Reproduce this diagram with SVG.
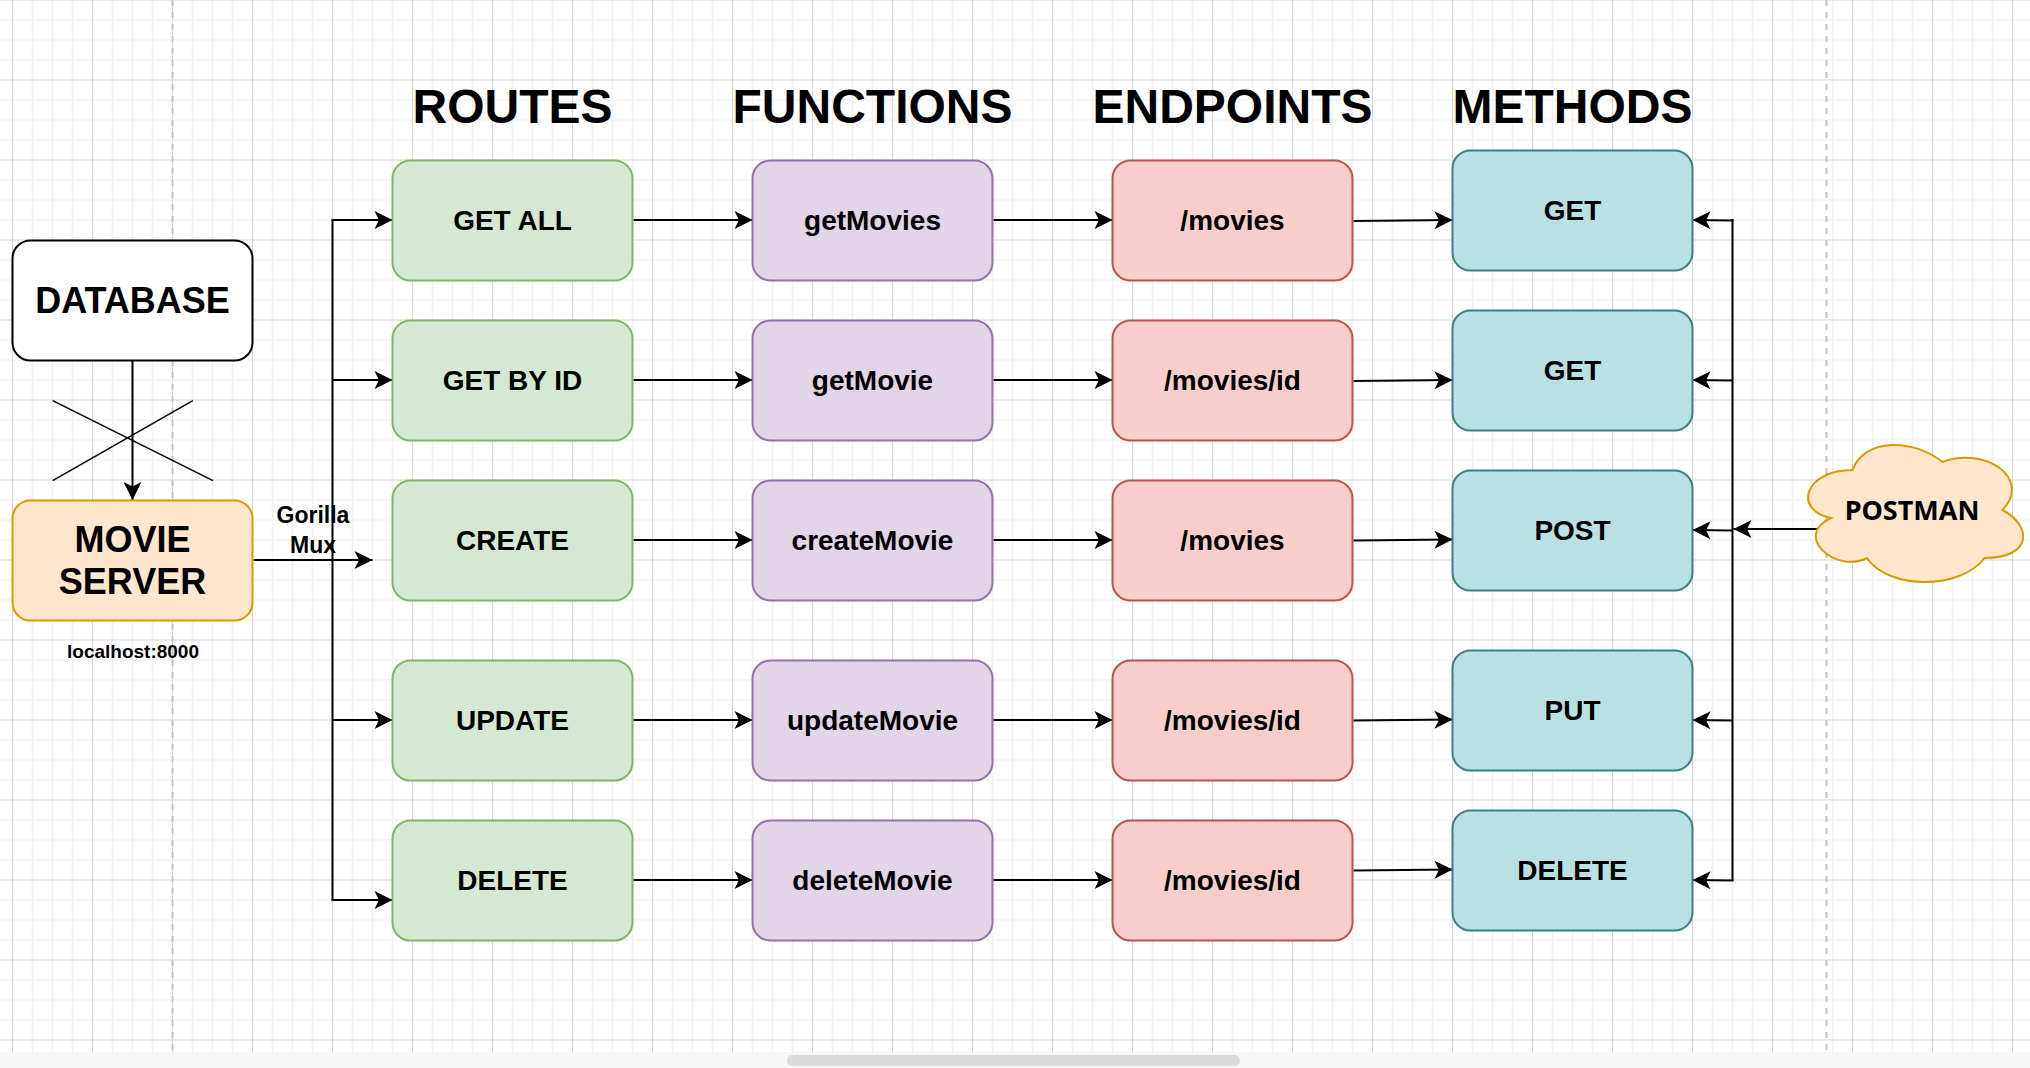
<svg xmlns="http://www.w3.org/2000/svg" width="2030" height="1068" viewBox="0 0 2030 1068">
<defs>
<pattern id="grid" patternUnits="userSpaceOnUse" x="12" y="-0.5" width="80" height="80">
<rect width="80" height="80" fill="#ffffff"/>
<g fill="#f1f1f1">
<rect x="19.75" y="0" width="1.5" height="80"/>
<rect x="39.75" y="0" width="1.5" height="80"/>
<rect x="59.75" y="0" width="1.5" height="80"/>
<rect x="0" y="19.75" width="80" height="1.5"/>
<rect x="0" y="39.75" width="80" height="1.5"/>
<rect x="0" y="59.75" width="80" height="1.5"/>
</g>
<g fill="#d3d3d3">
<rect x="0" y="0" width="1" height="80"/>
<rect x="0" y="0" width="80" height="1"/>
</g>
</pattern>
<marker id="arr" markerUnits="userSpaceOnUse" markerWidth="20" markerHeight="20" viewBox="-19 -10 20 20" refX="0" refY="0" orient="auto">
<path d="M0,0 L-18,-9 L-13.5,0 L-18,9 Z" fill="#000000"/>
</marker>
<style>
.txt{font-family:"Liberation Sans",Arial,Helvetica,sans-serif;font-weight:bold;fill:#000000;text-anchor:middle}
.title{font-size:48px}
.lbl{font-size:28px}
.big{font-size:36px}
.small{font-size:19px}
.mux{font-size:23px}
.pm{font-family:"Noto Sans",sans-serif;font-weight:bold;font-size:27px;fill:#000000;text-anchor:middle}
.box{stroke-width:2}
.db{fill:#ffffff;stroke:#000000}
.ms{fill:#ffe6cc;stroke:#d79b00}
.rt{fill:#d5e8d4;stroke:#82b366}
.fn{fill:#e1d5e7;stroke:#9673a6}
.ep{fill:#f8cecc;stroke:#b85450}
.mt{fill:#b9e1e4;stroke:#3a8187}
.edge{fill:none;stroke:#000000;stroke-width:2}
.arrow{marker-end:url(#arr)}
.cross{fill:none;stroke:#000000;stroke-width:1.5}
</style>
</defs>

<g id="background">
<rect x="0" y="0" width="2030" height="1052" fill="url(#grid)"/>
<line x1="172.5" y1="0" x2="172.5" y2="1052" stroke="#c4c4c4" stroke-width="2" stroke-dasharray="6 6"/>
<line x1="1826.5" y1="0" x2="1826.5" y2="1052" stroke="#c4c4c4" stroke-width="2" stroke-dasharray="6 6"/>
<rect x="0" y="1052" width="2030" height="16" fill="#f6f6f6"/>
<rect x="787" y="1055" width="453" height="11" rx="5.5" fill="#dadada"/>
</g>

<g id="titles">
<text class="txt title" x="512.5" y="123">ROUTES</text>
<text class="txt title" x="872.5" y="123">FUNCTIONS</text>
<text class="txt title" x="1232.5" y="123">ENDPOINTS</text>
<text class="txt title" x="1572.5" y="123">METHODS</text>
</g>

<g id="connectors">
<line class="edge arrow" x1="132.5" y1="361" x2="132.5" y2="500"/>
<line class="cross" x1="52.7" y1="400.7" x2="213" y2="480.7"/>
<line class="cross" x1="52.7" y1="480.7" x2="192.8" y2="400.7"/>
<line class="edge arrow" x1="253.5" y1="560" x2="372.5" y2="560"/>
<polyline class="edge" points="332.5,220 332.5,900"/>
<line class="edge arrow" x1="331.5" y1="220" x2="392.5" y2="220"/>
<line class="edge arrow" x1="332.5" y1="380" x2="392.5" y2="380"/>
<line class="edge arrow" x1="332.5" y1="720" x2="392.5" y2="720"/>
<line class="edge arrow" x1="331.5" y1="900" x2="392.5" y2="900"/>

<line class="edge arrow" x1="633.5" y1="220" x2="752.5" y2="220"/>
<line class="edge arrow" x1="633.5" y1="380" x2="752.5" y2="380"/>
<line class="edge arrow" x1="633.5" y1="540" x2="752.5" y2="540"/>
<line class="edge arrow" x1="633.5" y1="720" x2="752.5" y2="720"/>
<line class="edge arrow" x1="633.5" y1="880" x2="752.5" y2="880"/>

<line class="edge arrow" x1="993.5" y1="220" x2="1112.5" y2="220"/>
<line class="edge arrow" x1="993.5" y1="380" x2="1112.5" y2="380"/>
<line class="edge arrow" x1="993.5" y1="540" x2="1112.5" y2="540"/>
<line class="edge arrow" x1="993.5" y1="720" x2="1112.5" y2="720"/>
<line class="edge arrow" x1="993.5" y1="880" x2="1112.5" y2="880"/>

<line class="edge arrow" x1="1353.5" y1="221" x2="1452.5" y2="220"/>
<line class="edge arrow" x1="1353.5" y1="381" x2="1452.5" y2="380"/>
<line class="edge arrow" x1="1353.5" y1="540.5" x2="1452.5" y2="539.5"/>
<line class="edge arrow" x1="1353.5" y1="720.5" x2="1452.5" y2="719.5"/>
<line class="edge arrow" x1="1353.5" y1="870.5" x2="1452.5" y2="869.5"/>

<polyline class="edge" points="1732.5,219 1732.5,881"/>
<line class="edge arrow" x1="1733.5" y1="220.5" x2="1692.5" y2="220"/>
<line class="edge arrow" x1="1732.5" y1="380.5" x2="1692.5" y2="380"/>
<line class="edge arrow" x1="1732.5" y1="530.5" x2="1692.5" y2="530"/>
<line class="edge arrow" x1="1732.5" y1="720.5" x2="1692.5" y2="720"/>
<line class="edge arrow" x1="1733.5" y1="880.5" x2="1692.5" y2="880"/>
<line class="edge arrow" x1="1819" y1="529" x2="1733.5" y2="529"/>
</g>

<g id="database">
<rect class="box db" x="12.5" y="240.5" width="240" height="120" rx="18"/>
<text class="txt big" x="132.5" y="313">DATABASE</text>
</g>

<g id="movie-server">
<rect class="box ms" x="12.5" y="500.5" width="240" height="120" rx="18"/>
<text class="txt big" x="132.5" y="551.5">MOVIE</text>
<text class="txt big" x="132.5" y="594">SERVER</text>
</g>
<g id="localhost-label">
<text class="txt small" x="133" y="658">localhost:8000</text>
</g>
<g id="gorilla-mux-label">
<text class="txt mux" x="313" y="523">Gorilla</text>
<text class="txt mux" x="313" y="552.5">Mux</text>
</g>

<g id="route-get-all"><rect class="box rt" x="392.5" y="160.5" width="240" height="120" rx="18"/><text class="txt lbl" x="512.5" y="230">GET ALL</text></g>
<g id="route-get-by-id"><rect class="box rt" x="392.5" y="320.5" width="240" height="120" rx="18"/><text class="txt lbl" x="512.5" y="390">GET BY ID</text></g>
<g id="route-create"><rect class="box rt" x="392.5" y="480.5" width="240" height="120" rx="18"/><text class="txt lbl" x="512.5" y="550">CREATE</text></g>
<g id="route-update"><rect class="box rt" x="392.5" y="660.5" width="240" height="120" rx="18"/><text class="txt lbl" x="512.5" y="730">UPDATE</text></g>
<g id="route-delete"><rect class="box rt" x="392.5" y="820.5" width="240" height="120" rx="18"/><text class="txt lbl" x="512.5" y="890">DELETE</text></g>

<g id="fn-getMovies"><rect class="box fn" x="752.5" y="160.5" width="240" height="120" rx="18"/><text class="txt lbl" x="872.5" y="230">getMovies</text></g>
<g id="fn-getMovie"><rect class="box fn" x="752.5" y="320.5" width="240" height="120" rx="18"/><text class="txt lbl" x="872.5" y="390">getMovie</text></g>
<g id="fn-createMovie"><rect class="box fn" x="752.5" y="480.5" width="240" height="120" rx="18"/><text class="txt lbl" x="872.5" y="550">createMovie</text></g>
<g id="fn-updateMovie"><rect class="box fn" x="752.5" y="660.5" width="240" height="120" rx="18"/><text class="txt lbl" x="872.5" y="730">updateMovie</text></g>
<g id="fn-deleteMovie"><rect class="box fn" x="752.5" y="820.5" width="240" height="120" rx="18"/><text class="txt lbl" x="872.5" y="890">deleteMovie</text></g>

<g id="ep-1"><rect class="box ep" x="1112.5" y="160.5" width="240" height="120" rx="18"/><text class="txt lbl" x="1232.5" y="230">/movies</text></g>
<g id="ep-2"><rect class="box ep" x="1112.5" y="320.5" width="240" height="120" rx="18"/><text class="txt lbl" x="1232.5" y="390">/movies/id</text></g>
<g id="ep-3"><rect class="box ep" x="1112.5" y="480.5" width="240" height="120" rx="18"/><text class="txt lbl" x="1232.5" y="550">/movies</text></g>
<g id="ep-4"><rect class="box ep" x="1112.5" y="660.5" width="240" height="120" rx="18"/><text class="txt lbl" x="1232.5" y="730">/movies/id</text></g>
<g id="ep-5"><rect class="box ep" x="1112.5" y="820.5" width="240" height="120" rx="18"/><text class="txt lbl" x="1232.5" y="890">/movies/id</text></g>

<g id="method-get-1"><rect class="box mt" x="1452.5" y="150.5" width="240" height="120" rx="18"/><text class="txt lbl" x="1572.5" y="220">GET</text></g>
<g id="method-get-2"><rect class="box mt" x="1452.5" y="310.5" width="240" height="120" rx="18"/><text class="txt lbl" x="1572.5" y="380">GET</text></g>
<g id="method-post"><rect class="box mt" x="1452.5" y="470.5" width="240" height="120" rx="18"/><text class="txt lbl" x="1572.5" y="540">POST</text></g>
<g id="method-put"><rect class="box mt" x="1452.5" y="650.5" width="240" height="120" rx="18"/><text class="txt lbl" x="1572.5" y="720">PUT</text></g>
<g id="method-delete"><rect class="box mt" x="1452.5" y="810.5" width="240" height="120" rx="18"/><text class="txt lbl" x="1572.5" y="880">DELETE</text></g>

<g id="postman">
<path class="box ms" d="M1852.5,470 C1804.5,470 1792.5,510 1830.9,518 C1792.5,535.6 1835.7,574 1866.9,558 C1888.5,590 1960.5,590 1984.5,558 C2032.5,558 2032.5,526 2002.5,510 C2032.5,478 1984.5,446 1942.5,462 C1912.5,438 1864.5,438 1852.5,470 Z"/>
<text class="pm" x="1912" y="520">POSTMAN</text>
</g>
</svg>
